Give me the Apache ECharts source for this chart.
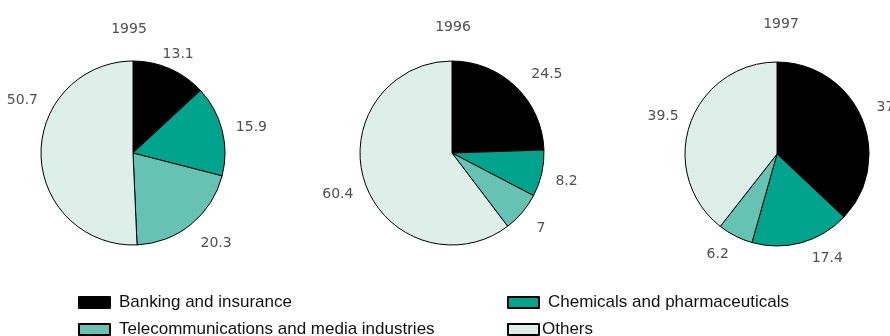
<!DOCTYPE html>
<html>
<head>
<meta charset="utf-8">
<script src="https://cdn.jsdelivr.net/npm/echarts@6/dist/echarts.min.js"></script>
<style>
  html, body { margin: 0; padding: 0; background: #fff; }
  #chart { width: 890px; height: 336px; }
</style>
</head>
<body>
<div id="chart"></div>
<script>
// Sector shares (%) per year
const sectors = ['Banking and insurance', 'Chemicals and pharmaceuticals', 'Telecommunications and media industries', 'Others'];
const years = ['1995', '1996', '1997'];
const shares1995 = [13.1, 15.9, 20.3, 50.7];
const shares1996 = [24.5, 8.2, 7, 60.4];
const shares1997 = [37.1, 17.4, 6.2, 39.5];

const colors = ['#000000', '#00a38b', '#66c2b2', '#deefe9'];
const centers = [[133, 153], [452, 153], [777, 154]];
const allShares = [shares1995, shares1996, shares1997];

// Small nudges of the value labels away from their default outside spot
const labelNudge = [
  [[-21, -3], [-7, 0], [-7, 10], [18, -55]],
  [[-2, -4], [-7, 5], [-4, 8], [9, 8]],
  [[-5, -5], [-2, 4], [8, 8], [9, -4]]
];

const numFont = 'DejaVu Sans, Verdana, sans-serif';
const textFont = 'Liberation Sans, Arial, sans-serif';

const series = allShares.map((vals, i) => ({
  type: 'pie',
  name: years[i],
  center: centers[i],
  radius: 92,
  startAngle: 90,
  clockwise: true,
  animation: false,
  silent: true,
  itemStyle: { borderColor: '#000', borderWidth: 1 },
  label: {
    show: true, position: 'outside', formatter: '{c}', overflow: 'none',
    fontFamily: numFont, fontSize: 14, color: '#505050'
  },
  labelLine: { show: false, length: 12, length2: 4 },
  labelLayout: (p) => ({ dx: labelNudge[i][p.dataIndex][0], dy: labelNudge[i][p.dataIndex][1] }),
  emphasis: { disabled: true },
  data: sectors.map((s, k) => ({ name: s, value: vals[k] }))
}));

const legendBase = {
  orient: 'vertical', top: 294, height: 60, itemGap: 10, padding: 0,
  itemWidth: 31, itemHeight: 11, icon: 'rect',
  selectedMode: false,
  textStyle: { fontFamily: textFont, fontSize: 17, color: '#111', padding: [0, 0, 0, 4] }
};

const chart = echarts.init(document.getElementById('chart'), null, { renderer: 'canvas' });
chart.setOption({
  color: colors,
  animation: false,
  title: years.map((y, i) => ({
    text: y,
    left: [129, 453, 781][i],
    top: [22, 20, 17][i],
    padding: 0,
    textAlign: 'center',
    textStyle: { fontFamily: numFont, fontSize: 14, fontWeight: 'normal', color: '#505050' }
  })),
  legend: [
    Object.assign({}, legendBase, { left: 78, data: [sectors[0], sectors[2]] }),
    Object.assign({}, legendBase, {
      left: 507,
      data: [sectors[1], { name: sectors[3], textStyle: { padding: [0, 0, 0, -2] } }]
    })
  ],
  series: series
});
</script>
</body>
</html>
